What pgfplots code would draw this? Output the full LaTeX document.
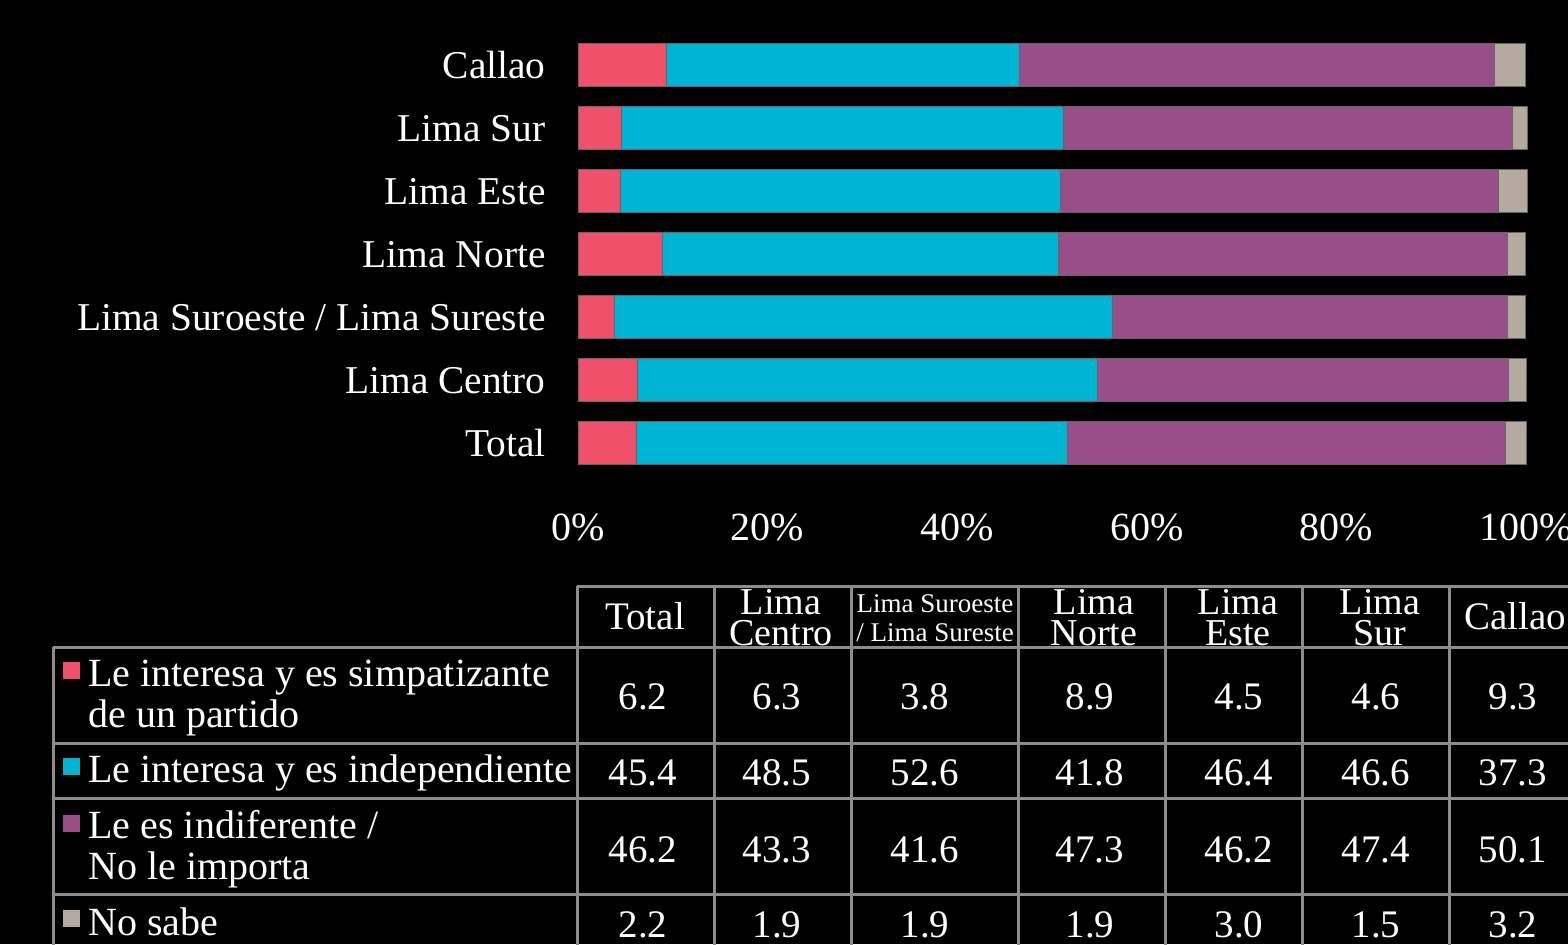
\documentclass[border=0pt]{standalone}
\usepackage{fontspec}
\setmainfont{Liberation Serif}
\usepackage{pgfplots}
\pgfplotsset{compat=1.18}
\definecolor{cred}{HTML}{F0506A}
\definecolor{ccyan}{HTML}{00B4D4}
\definecolor{cpurp}{HTML}{984E89}
\definecolor{cgray}{HTML}{B4AAA0}
\definecolor{gridc}{HTML}{8C8C8C}
\newcommand\bigf{\fontsize{20}{24}\selectfont}
\newcommand\labf{\fontsize{19.7}{24}\selectfont}
\newcommand\valf{\fontsize{19.5}{23}\selectfont}
\begin{document}
\begin{tikzpicture}
\useasboundingbox (0,0) rectangle (784pt,-472pt);
\clip (0,0) rectangle (784pt,-472pt);
\fill[black] (0,0) rectangle (784pt,-472pt);
\begin{axis}[
  at={(289pt,-237.25pt)}, anchor=south west,
  width=474pt, height=220.5pt, scale only axis,
  xbar stacked, bar width=21.5pt,
  xmin=0, xmax=100, ymin=-0.5, ymax=6.5,
  clip=false,
  axis line style={draw=none},
  major tick length=0pt,
  ytick={0,1,2,3,4,5,6},
  yticklabels={Total,Lima Centro,Lima Suroeste / Lima Sureste,Lima Norte,Lima Este,Lima Sur,Callao},
  xtick={0,20,40,60,80,100},
  xticklabel={\pgfmathprintnumber{\tick}\%},
  /pgf/number format/assume math mode=true,
  yticklabel style={font=\labf, text=white, inner sep=0pt, anchor=base east, xshift=-16pt, yshift=-6.6pt},
  xticklabel style={font=\bigf, text=white, inner sep=0pt, anchor=base, yshift=-32.75pt},
]
\addplot[fill=cred, draw=black!60, line width=0.3pt] coordinates {(6.2,0) (6.3,1) (3.8,2) (8.9,3) (4.5,4) (4.6,5) (9.3,6)};
\addplot[fill=ccyan, draw=black!60, line width=0.3pt] coordinates {(45.4,0) (48.5,1) (52.6,2) (41.8,3) (46.4,4) (46.6,5) (37.3,6)};
\addplot[fill=cpurp, draw=black!60, line width=0.3pt] coordinates {(46.2,0) (43.3,1) (41.6,2) (47.3,3) (46.2,4) (47.4,5) (50.1,6)};
\addplot[fill=cgray, draw=black!60, line width=0.3pt] coordinates {(2.2,0) (1.9,1) (1.9,2) (1.9,3) (3.0,4) (1.5,5) (3.2,6)};
\end{axis}
\begin{scope}[x=0.5pt, y=-0.5pt]
  % grid
  \begin{scope}[draw=gridc, line width=1.5pt]
    \draw (577,586) -- (1600,586);
    \foreach \yy in {647,743,798,894} \draw (53,\yy) -- (1600,\yy);
    \draw (53,647) -- (53,960);
    \foreach \xx in {577,714,851,1018,1165,1302,1449} \draw (\xx,586) -- (\xx,960);
  \end{scope}
  % headers
  \begin{scope}[every node/.style={text=white, inner sep=0pt, anchor=base, font=\valf}]
    \node at (645,629) {Total};
    \node[font=\fontsize{19}{20}\selectfont] at (781,614) {Lima};
    \node[font=\fontsize{19}{20}\selectfont] at (781,645) {Centro};
    \node[font=\fontsize{13.5}{15}\selectfont] at (935,612) {Lima Suroeste};
    \node[font=\fontsize{13.5}{15}\selectfont] at (935,641) {/ Lima Sureste};
    \node[font=\fontsize{19}{20}\selectfont] at (1094,614) {Lima};
    \node[font=\fontsize{19}{20}\selectfont] at (1094,645) {Norte};
    \node[font=\fontsize{19}{20}\selectfont] at (1238,614) {Lima};
    \node[font=\fontsize{19}{20}\selectfont] at (1238,645) {Este};
    \node[font=\fontsize{19}{20}\selectfont] at (1380,614) {Lima};
    \node[font=\fontsize{19}{20}\selectfont] at (1380,645) {Sur};
    \node at (1515,629) {Callao};
  \end{scope}
  % legend squares
  \fill[cred] (63,662) rectangle (80,679);
  \fill[ccyan] (63,758) rectangle (80,775);
  \fill[cpurp] (63,815) rectangle (80,832);
  \fill[cgray] (63,910) rectangle (80,927);
  % row labels
  \begin{scope}[every node/.style={text=white, inner sep=0pt, anchor=base west, font=\bigf}]
    \node at (88,686) {Le interesa y es simpatizante};
    \node at (88,727) {de un partido};
    \node at (88,782) {Le interesa y es independiente};
    \node at (88,838) {Le es indiferente /};
    \node at (88,879) {No le importa};
    \node at (88,935) {No sabe};
  \end{scope}
  % values
  \begin{scope}[every node/.style={text=white, inner sep=0pt, anchor=base, font=\valf}]
    \foreach \xx/\a/\b/\c/\d in {643/6.2/45.4/46.2/2.2, 777/6.3/48.5/43.3/1.9, 925/3.8/52.6/41.6/1.9, 1090/8.9/41.8/47.3/1.9, 1239/4.5/46.4/46.2/3.0, 1376/4.6/46.6/47.4/1.5, 1513/9.3/37.3/50.1/3.2}{
      \node at (\xx,709) {\a};
      \node at (\xx,785) {\b};
      \node at (\xx,862) {\c};
      \node at (\xx,937) {\d};
    }
  \end{scope}
\end{scope}
\end{tikzpicture}
\end{document}
